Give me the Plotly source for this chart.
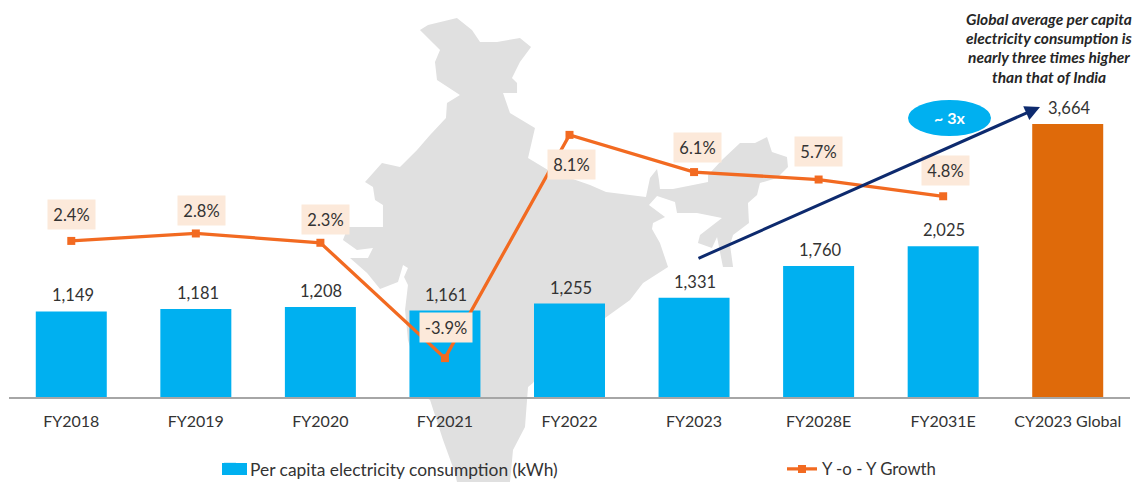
import plotly.graph_objects as go

categories = ["FY2018", "FY2019", "FY2020", "FY2021", "FY2022", "FY2023", "FY2028E", "FY2031E", "CY2023 Global"]
consumption = [1149, 1181, 1208, 1161, 1255, 1331, 1760, 2025, 3664]
growth = [2.4, 2.8, 2.3, -3.9, 8.1, 6.1, 5.7, 4.8, None]
note_lines = ["Global average per capita", "electricity consumption is", "nearly three times higher", "than that of India"]

W, H = 1134, 482
L, R, BASE = 9, 1130, 397
BLUE, ORANGE, BROWN, NAVY, INK = "#00B0F0", "#F26A21", "#DF6A0A", "#0D2A6E", "#333333"
FONT = "Lato"


def fx(p):
    return (p - L) / (R - L)


def fy(p):
    return (BASE - p) / BASE


india = [(420,30),(428,25),(457,18),(472,30),(480,42),(497,42),(520,38),(531,47),(520,62),(512,78),(517,83),(517,93),
         (503,93),(510,113),(535,128),(528,158),(548,170),(570,178),(590,185),(606,192),(646,197),(650,178),(657,169),
         (659,180),(660,189),(673,189),(708,182),(708,175),(722,160),(740,143),(755,143),(767,137),(772,152),(787,157),
         (788,167),(777,178),(760,183),(757,195),(748,203),(749,223),(733,235),(730,245),(733,267),(723,267),(717,237),
         (712,248),(698,243),(700,235),(722,218),(697,213),(677,213),(675,202),(657,196),(649,205),(665,217),(653,223),
         (652,229),(660,243),(668,267),(643,283),(630,300),(605,318),(560,340),(533,383),(528,387),(525,427),(513,450),
         (510,482),(457,482),(455,473),(443,440),(430,400),(425,397),(408,340),(405,310),(408,285),(404,277),(408,268),
         (403,265),(398,282),(380,289),(367,273),(350,258),(368,258),(373,248),(357,250),(343,240),(348,227),(383,227),
         (383,205),(375,200),(373,187),(365,182),(382,163),(400,167),(417,150),(430,135),(446,118),(447,103),(460,95),
         (437,80),(435,62),(440,50)]
india_path = "M " + " L ".join(f"{fx(x):.4f},{fy(y):.4f}" for x, y in india) + " Z"

fig = go.Figure()
fig.add_trace(go.Bar(x=categories, y=consumption, name="Per capita electricity consumption (kWh)", legend="legend",
                     width=0.57, marker=dict(color=[BLUE] * 8 + [BROWN], line=dict(width=0)), yaxis="y"))
fig.add_trace(go.Scatter(x=categories, y=growth, name="Y -o - Y Growth", mode="lines+markers", yaxis="y2", legend="legend2",
                         line=dict(color=ORANGE, width=3.3), marker=dict(symbol="square", size=8, color=ORANGE)))

ann = []
bar_dx = [2, 2, 1, 1, 1, 1, 1, 1, 1]
for c, v, dx in zip(categories, consumption, bar_dx):
    ann.append(dict(x=c, y=v, xref="x", yref="y", text=f"{v:,}", showarrow=False, xshift=dx, yshift=16,
                    font=dict(family=FONT, size=16.5, color=INK)))

growth_dx = [0, 6, 5, 1, 2, 3, 0, 2]
growth_dy = [26, 23, 23, 31, -30, 25, 28, 26]
for c, g, dx, dy in zip(categories, growth, growth_dx, growth_dy):
    ann.append(dict(x=c, y=g, xref="x", yref="y2", text=f"{g:.1f}%", showarrow=False, xshift=dx, yshift=dy,
                    width=50 if g < 0 else 45, height=27, bgcolor="#FCE9DA",
                    font=dict(family=FONT, size=16.5, color=INK)))

ann.append(dict(x=fx(1040), y=fy(107), ax=697 - 1040, ay=259 - 107, xref="paper", yref="paper", axref="pixel", ayref="pixel",
                text="", showarrow=True, arrowhead=2, arrowsize=1, arrowwidth=3, arrowcolor=NAVY))
ann.append(dict(x=fx(949.5), y=fy(118), xref="paper", yref="paper", text="<b>~ 3x</b>", showarrow=False,
                xanchor="center", yanchor="middle", font=dict(family=FONT, size=16, color="white")))
for line, py in zip(note_lines, [19, 38, 57, 77]):
    ann.append(dict(x=fx(1049), y=fy(py), xref="paper", yref="paper", showarrow=False, xanchor="center", yanchor="middle",
                    text=f"<b><i>{line}</i></b>", font=dict(family=FONT, size=15.5, color="#262626")))

leg_common = dict(orientation="h", xanchor="left", yanchor="middle", bgcolor="rgba(0,0,0,0)")

fig.update_layout(
    width=W, height=H, margin=dict(l=L, r=W - R, t=0, b=H - BASE, autoexpand=False),
    paper_bgcolor="white", plot_bgcolor="white", bargap=0.43, showlegend=True,
    font=dict(family=FONT, size=16, color=INK),
    xaxis=dict(type="category", range=[-0.5, 8.5], showline=True, linecolor="#A6A6A6", linewidth=2, ticks="",
               showgrid=False, ticklabelstandoff=9, tickfont=dict(family=FONT, size=16, color=INK)),
    yaxis=dict(range=[0, 5329], visible=False, showgrid=False, zeroline=False),
    yaxis2=dict(range=[-5.99, 15.35], overlaying="y", visible=False, showgrid=False, zeroline=False),
    legend=dict(x=fx(210), y=fy(469), font=dict(family=FONT, size=17.4, color=INK), **leg_common),
    legend2=dict(x=fx(782), y=fy(469), font=dict(family=FONT, size=16.8, color=INK), **leg_common),
    shapes=[
        dict(type="path", path=india_path, xref="paper", yref="paper", layer="below",
             fillcolor="#E0E0E0", line=dict(width=0)),
        dict(type="circle", xref="paper", yref="paper", x0=fx(908), x1=fx(991), y0=fy(136), y1=fy(100),
             fillcolor=BLUE, line=dict(width=0), layer="above"),
        dict(type="rect", xref="paper", yref="paper", x0=fx(222), x1=fx(247), y0=fy(475), y1=fy(463),
             fillcolor=BLUE, line=dict(width=0), layer="above"),
    ],
    annotations=ann,
)
fig.write_html("out.html", config=dict(displayModeBar=False), post_script="document.body.style.margin='0';")
